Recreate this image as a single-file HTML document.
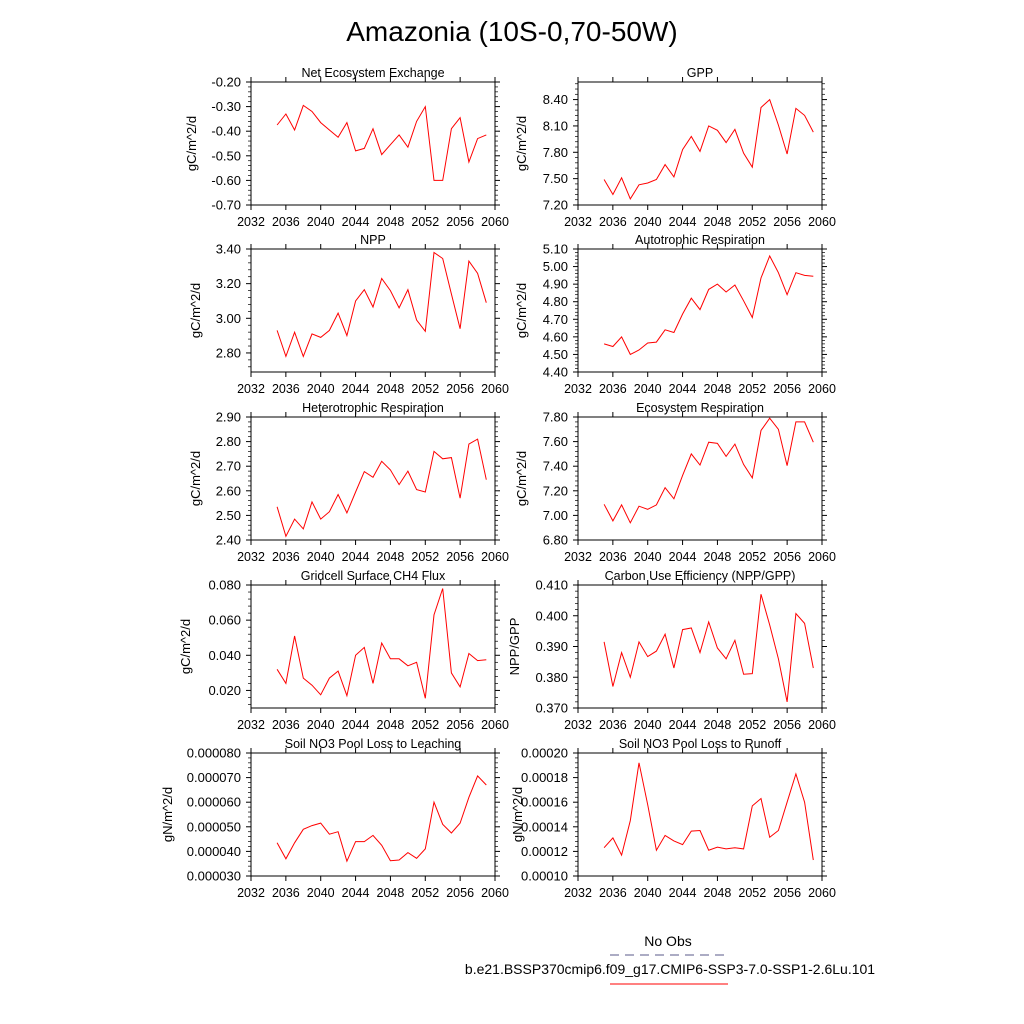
<!DOCTYPE html>
<html><head><meta charset="utf-8"><style>
html,body{margin:0;padding:0;background:#fff;}
svg{display:block;font-family:"Liberation Sans",sans-serif;}
</style></head><body>
<svg id="chart" width="1024" height="1024" viewBox="0 0 1024 1024">
<text x="512" y="41" font-size="28" text-anchor="middle">Amazonia (10S-0,70-50W)</text>
<g>
<text x="668" y="946" font-size="14" text-anchor="middle">No Obs</text>
<line x1="610" y1="955" x2="728" y2="955" stroke="#5a5a8a" stroke-width="1" stroke-dasharray="9,6"/>
<text x="670" y="974" font-size="14" text-anchor="middle">b.e21.BSSP370cmip6.f09_g17.CMIP6-SSP3-7.0-SSP1-2.6Lu.101</text>
<line x1="610" y1="984" x2="728" y2="984" stroke="#ff0000" stroke-width="1"/>
</g>
</svg>
<script>
const years=[2035,2036,2037,2038,2039,2040,2041,2042,2043,2044,2045,2046,2047,2048,2049,2050,2051,2052,2053,2054,2055,2056,2057,2058,2059];
const xTicks=[2032,2036,2040,2044,2048,2052,2056,2060];
const neeValues=[-0.375,-0.33,-0.395,-0.295,-0.32,-0.365,-0.395,-0.425,-0.365,-0.48,-0.47,-0.39,-0.495,-0.455,-0.415,-0.465,-0.36,-0.30,-0.60,-0.60,-0.39,-0.345,-0.525,-0.43,-0.415];
const neeTicks=[-0.7,-0.6,-0.5,-0.4,-0.3,-0.2];
const gppValues=[7.49,7.32,7.51,7.27,7.43,7.45,7.49,7.66,7.52,7.83,7.98,7.81,8.10,8.05,7.91,8.06,7.79,7.63,8.31,8.40,8.11,7.78,8.30,8.22,8.03];
const gppTicks=[7.2,7.5,7.8,8.1,8.4];
const nppValues=[2.93,2.78,2.92,2.78,2.91,2.89,2.93,3.03,2.90,3.10,3.165,3.065,3.23,3.16,3.06,3.165,2.99,2.925,3.38,3.345,3.14,2.94,3.33,3.26,3.09];
const nppTicks=[2.8,3.0,3.2,3.4];
const arValues=[4.56,4.545,4.60,4.50,4.525,4.565,4.57,4.64,4.625,4.73,4.82,4.755,4.87,4.90,4.855,4.895,4.805,4.71,4.935,5.06,4.965,4.84,4.965,4.95,4.945];
const arTicks=[4.4,4.5,4.6,4.7,4.8,4.9,5.0,5.1];
const hrValues=[2.535,2.415,2.485,2.445,2.555,2.485,2.515,2.585,2.51,2.595,2.678,2.655,2.72,2.685,2.625,2.68,2.605,2.595,2.76,2.73,2.735,2.57,2.79,2.81,2.645];
const hrTicks=[2.4,2.5,2.6,2.7,2.8,2.9];
const erValues=[7.09,6.955,7.085,6.94,7.075,7.05,7.085,7.225,7.135,7.325,7.50,7.41,7.595,7.585,7.48,7.58,7.415,7.305,7.69,7.79,7.70,7.405,7.76,7.76,7.595];
const erTicks=[6.8,7.0,7.2,7.4,7.6,7.8];
const ch4Values=[0.032,0.024,0.051,0.027,0.023,0.0175,0.027,0.031,0.017,0.040,0.0445,0.024,0.047,0.038,0.038,0.034,0.036,0.0155,0.063,0.078,0.030,0.022,0.041,0.037,0.0375];
const ch4Ticks=[0.02,0.04,0.06,0.08];
const cueValues=[0.3915,0.377,0.388,0.380,0.3915,0.3867,0.3885,0.394,0.383,0.3955,0.396,0.388,0.398,0.3895,0.386,0.392,0.381,0.3812,0.407,0.397,0.386,0.372,0.4007,0.3975,0.383];
const cueTicks=[0.37,0.38,0.39,0.40,0.41];
const leachValues=[0.0000435,0.000037,0.0000435,0.000049,0.0000505,0.0000515,0.000047,0.000048,0.000036,0.000044,0.000044,0.0000465,0.0000425,0.0000362,0.0000365,0.0000395,0.0000372,0.000041,0.00006,0.000051,0.0000475,0.0000515,0.000062,0.0000707,0.000067];
const leachTicks=[0.00003,0.00004,0.00005,0.00006,0.00007,0.00008];
const runoffValues=[0.000123,0.000131,0.000117,0.000145,0.000192,0.000158,0.000121,0.000133,0.0001285,0.0001255,0.0001365,0.000137,0.000121,0.0001235,0.000122,0.000123,0.000122,0.000157,0.000163,0.0001315,0.000137,0.00016,0.000183,0.00016,0.000113];
const runoffTicks=[0.0001,0.00012,0.00014,0.00016,0.00018,0.0002];

const NS='http://www.w3.org/2000/svg';
const svg=document.getElementById('chart');
function mk(tag,attrs,parent){const e=document.createElementNS(NS,tag);for(const k in attrs)e.setAttribute(k,attrs[k]);parent.appendChild(e);return e;}

const panels=[
 {id:'nee',title:'Net Ecosystem Exchange',unit:'gC/m^2/d',vals:neeValues,ticks:neeTicks,ymin:-0.7,ymax:-0.2,dec:2,col:0,row:0,tx:196},
 {id:'gpp',title:'GPP',unit:'gC/m^2/d',vals:gppValues,ticks:gppTicks,ymin:7.2,ymax:8.6,dec:2,col:1,row:0,tx:526},
 {id:'npp',title:'NPP',unit:'gC/m^2/d',vals:nppValues,ticks:nppTicks,ymin:2.69,ymax:3.4,dec:2,col:0,row:1,tx:200},
 {id:'ar',title:'Autotrophic Respiration',unit:'gC/m^2/d',vals:arValues,ticks:arTicks,ymin:4.4,ymax:5.1,dec:2,col:1,row:1,tx:526},
 {id:'hr',title:'Heterotrophic Respiration',unit:'gC/m^2/d',vals:hrValues,ticks:hrTicks,ymin:2.4,ymax:2.9,dec:2,col:0,row:2,tx:200},
 {id:'er',title:'Ecosystem Respiration',unit:'gC/m^2/d',vals:erValues,ticks:erTicks,ymin:6.8,ymax:7.8,dec:2,col:1,row:2,tx:526},
 {id:'ch4',title:'Gridcell Surface CH4 Flux',unit:'gC/m^2/d',vals:ch4Values,ticks:ch4Ticks,ymin:0.01,ymax:0.08,dec:3,col:0,row:3,tx:190},
 {id:'cue',title:'Carbon Use Efficiency (NPP/GPP)',unit:'NPP/GPP',vals:cueValues,ticks:cueTicks,ymin:0.37,ymax:0.41,dec:3,col:1,row:3,tx:519},
 {id:'leach',title:'Soil NO3 Pool Loss to Leaching',unit:'gN/m^2/d',vals:leachValues,ticks:leachTicks,ymin:0.00003,ymax:0.00008,dec:6,col:0,row:4,tx:172},
 {id:'runoff',title:'Soil NO3 Pool Loss to Runoff',unit:'gN/m^2/d',vals:runoffValues,ticks:runoffTicks,ymin:0.0001,ymax:0.0002,dec:5,col:1,row:4,tx:522}
];
const lefts=[251,578], tops=[82,249,417,585,753], W=244, H=123;
const xmin=2032,xmax=2060;

panels.forEach(p=>{
 const L=lefts[p.col],T=tops[p.row],B=T+H,R=L+W;
 const xs=v=>L+(v-xmin)/(xmax-xmin)*W;
 const ys=v=>B-(v-p.ymin)/(p.ymax-p.ymin)*H;
 const g=mk('g',{},svg);
 
 
 const fr=mk('rect',{x:L,y:T,width:W,height:H,fill:'none',stroke:'#000','stroke-width':1},g);
 
 
 const t=mk('text',{x:L+W/2,y:T-5,'font-size':12.5,'text-anchor':'middle'},g);
 t.textContent=p.title;
 
 
 const ux=p.tx, uy=(T+B)/2;
 const u=mk('text',{x:ux,y:uy,'font-size':13,'text-anchor':'middle',transform:'rotate(-90 '+ux+' '+uy+')'},g);
 u.textContent=p.unit;
 
 
 xTicks.forEach(v=>{
  const x=xs(v);
  mk('line',{x1:x,y1:B,x2:x,y2:B+5,stroke:'#000'},g);
  mk('line',{x1:x,y1:T,x2:x,y2:T-5,stroke:'#000'},g);
  const l=mk('text',{x:x,y:B+21,'font-size':12.5,'text-anchor':'middle'},g);
  l.textContent=v;
  
  
 });
 const step=p.ticks[1]-p.ticks[0];
 for(let i=0;i<p.ticks.length;i++){
  const v=p.ticks[i],y=ys(v);
  mk('line',{x1:L-5,y1:y,x2:L,y2:y,stroke:'#000'},g);
  mk('line',{x1:R,y1:y,x2:R+5,y2:y,stroke:'#000'},g);
  const l=mk('text',{x:L-10,y:y+4.5,'font-size':13,'text-anchor':'end'},g);
  l.textContent=v.toFixed(p.dec);
  
  
 }
 for(let k=-10;k<(p.ticks.length+10)*5;k++){
  const v=p.ticks[0]+k*step/5;
  if(k%5===0)continue;
  if(v<p.ymin-1e-12||v>p.ymax+1e-12)continue;
  const y=ys(v);
  mk('line',{x1:L-3,y1:y,x2:L,y2:y,stroke:'#000','stroke-width':0.7},g);
  mk('line',{x1:R,y1:y,x2:R+3,y2:y,stroke:'#000','stroke-width':0.7},g);
 }
 const pts=p.vals.map((v,i)=>xs(years[i]).toFixed(1)+','+ys(v).toFixed(1)).join(' ');
 const pl=mk('polyline',{points:pts,fill:'none',stroke:'#ff0000','stroke-width':1},g);
 
 
});
</script>
</body></html>
